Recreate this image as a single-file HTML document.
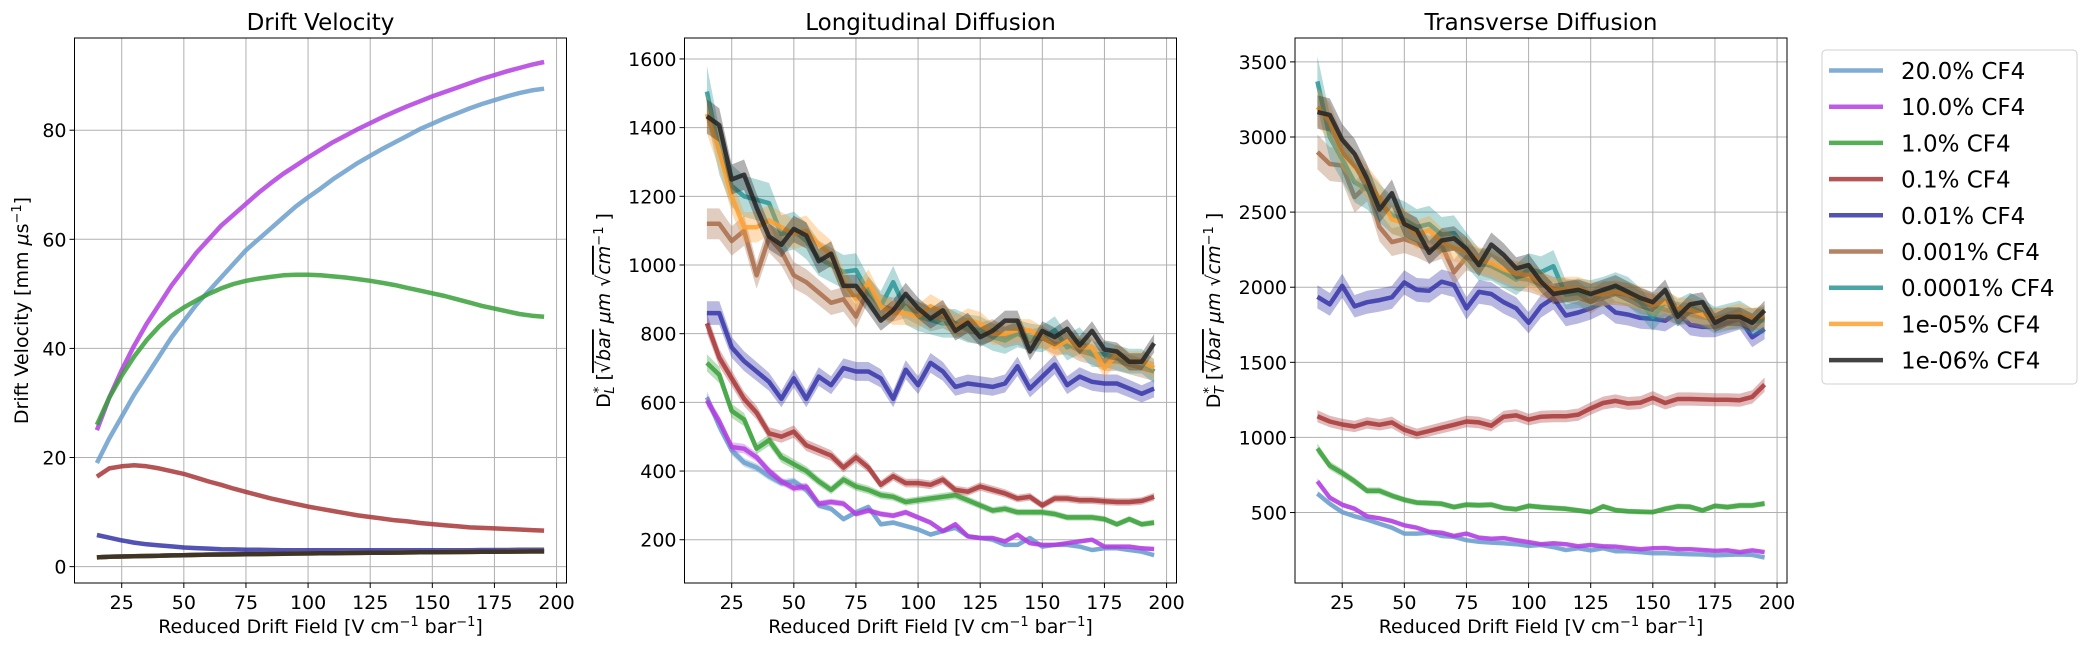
<!DOCTYPE html>
<html><head><meta charset="utf-8">
<style>
html,body{margin:0;padding:0;background:#fff;}
svg{display:block;font-family:"DejaVu Sans","Liberation Sans",sans-serif;}
</style></head>
<body>
<svg id="chart" width="2088" height="648" viewBox="0 0 2088 648" xmlns="http://www.w3.org/2000/svg"></svg>
<script>
const xs = [15,20,25,30,35,40,45,50,55,60,65,70,75,80,85,90,95,100,105,110,115,120,125,130,135,140,145,150,155,160,165,170,175,180,185,190,195];
const seriesNames = ["20.0% CF4","10.0% CF4","1.0% CF4","0.1% CF4","0.01% CF4","0.001% CF4","0.0001% CF4","1e-05% CF4","1e-06% CF4"];
const seriesColors = ["#6b9fcc","#b23ee0","#38a038","#a83636","#3535a8","#a86c4a","#2a9696","#ffa030","#222222"];

// Drift velocity
const vd20 = [19,23.5,27.5,31.5,35,38.5,42,45,48,50.5,53,55.5,58,60,62,64,66,67.7,69.3,71,72.5,74,75.3,76.6,77.8,79,80.2,81.2,82.2,83.1,84,84.8,85.5,86.2,86.8,87.3,87.6];
const vd10 = [25,31,36,40.5,44.5,48,51.5,54.5,57.5,60,62.5,64.5,66.5,68.5,70.3,72,73.5,75,76.4,77.8,79,80.2,81.3,82.4,83.4,84.4,85.3,86.2,87,87.8,88.6,89.4,90.1,90.8,91.4,92,92.5];
const vd1 = [26,31,35,38.5,41.5,44,46,47.5,48.8,50,51,51.8,52.4,52.8,53.1,53.4,53.5,53.5,53.4,53.2,53,52.7,52.4,52,51.6,51.1,50.6,50.1,49.6,49,48.4,47.8,47.3,46.8,46.3,46,45.8];
const vd01 = [16.5,18,18.4,18.6,18.4,18,17.5,17,16.3,15.6,15,14.3,13.7,13.1,12.5,12,11.5,11,10.6,10.2,9.8,9.4,9.1,8.8,8.5,8.3,8.0,7.8,7.6,7.4,7.2,7.1,7.0,6.9,6.8,6.7,6.6];
const vd001 = [5.8,5.3,4.8,4.4,4.1,3.9,3.7,3.5,3.4,3.3,3.2,3.15,3.1,3.1,3.05,3.0,3.0,3.0,3.0,3.0,3.0,3.0,3.0,3.0,3.0,3.0,3.0,3.0,3.0,3.0,3.0,3.05,3.05,3.05,3.1,3.1,3.1];
const vdLow = [1.7,1.8,1.85,1.9,1.95,2.0,2.05,2.1,2.15,2.2,2.22,2.25,2.28,2.3,2.33,2.36,2.4,2.42,2.45,2.47,2.5,2.52,2.54,2.56,2.58,2.6,2.62,2.64,2.66,2.68,2.7,2.72,2.74,2.76,2.78,2.8,2.8];
const vdTicks = [0,20,40,60,80];

// Longitudinal diffusion
const dl20 = [615,530,460,425,410,385,365,370,345,300,290,260,280,295,245,250,240,230,215,225,235,210,205,200,185,185,205,180,185,185,180,170,175,175,170,165,155];
const dl10 = [605,545,470,465,440,400,370,350,355,305,310,305,275,285,275,270,280,265,250,225,245,210,205,205,195,215,190,185,185,190,195,200,180,180,180,175,173];
const dl1 = [715,680,575,550,465,490,440,420,400,370,345,375,355,345,330,325,310,315,320,325,330,315,300,285,290,280,280,280,275,265,265,265,260,245,260,245,250];
const dl01 = [830,730,670,610,570,510,500,515,475,460,445,410,440,410,360,385,365,365,360,375,345,340,355,345,335,320,325,300,320,320,315,315,312,310,310,313,325];
const dl001 = [860,860,760,720,690,660,610,670,610,675,650,700,690,690,670,610,695,650,715,690,645,655,650,645,655,705,640,675,710,650,675,660,655,655,640,625,640];
const dl0001 = [1120,1120,1070,1100,970,1080,1040,970,950,920,890,900,850,930,880,870,880,860,840,850,830,810,800,810,790,800,780,790,770,770,750,740,720,720,710,700,690];
const dl00001 = [1505,1330,1230,1200,1190,1180,1090,1100,1070,1020,1000,980,985,920,880,950,870,850,840,830,830,815,810,790,780,800,790,785,810,760,780,740,740,730,720,720,690];
const dl1e5 = [1440,1330,1200,1110,1110,1130,1110,1090,1100,1060,1030,950,900,950,880,860,860,850,880,860,820,840,830,800,800,810,810,790,760,780,760,760,700,740,720,720,700];
const dl1e6 = [1433,1407,1249,1263,1167,1083,1059,1105,1086,1011,1033,939,939,891,838,868,916,874,844,868,808,832,790,808,838,838,748,808,790,814,766,808,754,748,718,718,772];
const dlTicks = [200,400,600,800,1000,1200,1400,1600];

// Transverse diffusion
const dt20 = [626,558,503,475,453,426,399,360,360,366,344,338,316,305,300,295,289,278,284,270,251,262,248,262,243,243,237,229,229,226,223,221,215,218,221,218,201];
const dt10 = [708,599,552,525,475,462,443,415,399,372,366,344,360,333,325,330,316,303,289,295,289,275,284,275,273,264,256,262,264,256,256,251,245,248,237,248,237];
const dt1 = [927,812,763,708,645,645,612,585,566,563,558,536,552,549,552,530,522,544,536,530,525,514,503,541,516,508,505,503,525,541,538,514,544,536,547,547,560];
const dt01 = [1141,1106,1086,1073,1097,1084,1100,1051,1023,1043,1064,1084,1106,1100,1078,1138,1147,1119,1138,1141,1141,1152,1193,1229,1243,1226,1232,1264,1229,1256,1256,1253,1251,1251,1248,1270,1352];
const dt001 = [1936,1886,2010,1873,1900,1914,1933,2032,1982,1977,2037,2015,1859,1969,1955,1900,1859,1763,1873,1928,1812,1832,1859,1900,1832,1818,1796,1790,1777,1832,1749,1736,1736,1763,1790,1667,1722];
const dt0001 = [2900,2820,2810,2600,2680,2400,2300,2320,2290,2250,2280,2100,2200,2170,2140,2100,2060,2050,2020,1990,1980,1960,1900,1960,1960,1950,1900,1880,1850,1830,1820,1800,1790,1790,1790,1790,1780];
const dt00001 = [3370,3000,2850,2700,2650,2560,2480,2450,2400,2420,2350,2360,2250,2150,2150,2100,2050,2120,2100,2140,1950,1960,1950,1970,2000,1970,1900,1800,1900,1830,1870,1830,1780,1800,1820,1770,1780];
const dt1e5 = [3200,3100,2900,2800,2700,2600,2450,2430,2350,2380,2300,2260,2240,2180,2160,2120,2090,2080,2030,1980,1990,1990,1960,1950,1970,1950,1930,1880,1900,1860,1850,1820,1780,1800,1820,1790,1810];
const dt1e6 = [3166,3147,2982,2887,2722,2517,2626,2421,2380,2229,2311,2325,2256,2147,2284,2215,2125,2147,2037,1955,1969,1982,1955,1982,2010,1969,1928,1900,1982,1804,1886,1900,1763,1804,1804,1763,1845];
const dtTicks = [500,1000,1500,2000,2500,3000,3500];
const xTicks = [25,50,75,100,125,150,175,200];

const NS = "http://www.w3.org/2000/svg";
const svg = document.getElementById("chart");
function mk(tag, attrs, parent){ const e=document.createElementNS(NS,tag); for(const k in attrs) e.setAttribute(k,attrs[k]); (parent||svg).appendChild(e); return e; }

const panelTop = 38, panelBot = 583, panelW = 492;
const relErr = [0.03,0.03,0.035,0.035,0.04,0.04,0.05,0.04,0.035];

function panel(idx, left, ylim, yTicks, series, title, bands, ylabelHTML, ylabelX){
  const g = mk("g",{});
  
  
  const xScale = v => left + (v - 6) / (204 - 6) * panelW;
  const yScale = v => panelBot - (v - ylim[0]) / (ylim[1] - ylim[0]) * (panelBot - panelTop);
  xTicks.forEach(t => {
    const x = xScale(t);
    const gl = mk("line",{x1:x,x2:x,y1:panelTop,y2:panelBot,stroke:"#b0b0b0","stroke-width":1},g);
    
    
    mk("line",{x1:x,x2:x,y1:panelBot,y2:panelBot+5,stroke:"#000","stroke-width":1},g);
    const tl = mk("text",{x:x,y:panelBot+26,"font-size":19,"text-anchor":"middle",fill:"#000"},g);
    tl.textContent = t;
    
    
  });
  yTicks.forEach(t => {
    const y = yScale(t);
    const gl = mk("line",{x1:left,x2:left+panelW,y1:y,y2:y,stroke:"#b0b0b0","stroke-width":1},g);
    
    
    mk("line",{x1:left-5,x2:left,y1:y,y2:y,stroke:"#000","stroke-width":1},g);
    const tl = mk("text",{x:left-8,y:y+7,"font-size":19,"text-anchor":"end",fill:"#000"},g);
    tl.textContent = t;
    
    
  });
  series.forEach((vals, i) => {
    const col = seriesColors[i];
    if (bands) {
      const up = vals.map((v,j) => xScale(xs[j]).toFixed(1)+","+yScale(v*(1+relErr[i])).toFixed(1));
      const dn = vals.map((v,j) => xScale(xs[j]).toFixed(1)+","+yScale(v*(1-relErr[i])).toFixed(1)).reverse();
      const b = mk("polygon",{points:up.concat(dn).join(" "),fill:col,"fill-opacity":0.35,stroke:"none"},g);
      
      
    }
    const pts = vals.map((v,j) => xScale(xs[j]).toFixed(1)+","+yScale(v).toFixed(1)).join(" ");
    const l = mk("polyline",{points:pts,fill:"none",stroke:col,"stroke-width":4.5,"stroke-opacity":0.85,"stroke-linejoin":"round"},g);
    
    
  });
  const fr = mk("rect",{x:left,y:panelTop,width:panelW,height:panelBot-panelTop,fill:"none",stroke:"#000","stroke-width":1},g);
  
  
  const tt = mk("text",{x:left+panelW/2,y:30,"font-size":23,"text-anchor":"middle",fill:"#000"},g);
  tt.textContent = title;
  
  
  const xl = mk("text",{x:left+panelW/2,y:633,"font-size":19,"text-anchor":"middle",fill:"#000"},g);
  xl.innerHTML = 'Reduced Drift Field [V cm<tspan dy="-7" font-size="13">−1</tspan><tspan dy="7"> bar</tspan><tspan dy="-7" font-size="13">−1</tspan><tspan dy="7">]</tspan>';
  
  
  const yl = mk("text",{x:0,y:0,"font-size":19,"text-anchor":"middle",fill:"#000",transform:"translate("+ylabelX+","+((panelTop+panelBot)/2)+") rotate(-90)"},g);
  yl.innerHTML = ylabelHTML;
  
  
}

panel(0, 74.5, [-3.0, 96.9], vdTicks, [vd20,vd10,vd1,vd01,vd001,vdLow,vdLow,vdLow,vdLow], "Drift Velocity", false,
  'Drift Velocity [mm <tspan font-style="italic">μ</tspan>s<tspan dy="-7" font-size="13">−1</tspan><tspan dy="7">]</tspan>', 28);
panel(1, 684.5, [74, 1661], dlTicks, [dl20,dl10,dl1,dl01,dl001,dl0001,dl00001,dl1e5,dl1e6], "Longitudinal Diffusion", true,
  'D<tspan dy="-7" font-size="13">*</tspan><tspan dy="11" dx="-7" font-size="13" font-style="italic">L</tspan><tspan dy="-4">  [</tspan><tspan text-decoration="overline">√<tspan font-style="italic">bar</tspan></tspan><tspan font-style="italic"> μm </tspan>√<tspan text-decoration="overline" font-style="italic">cm</tspan><tspan dy="-7" font-size="13">−1</tspan><tspan dy="7"> ]</tspan>', 610);
panel(2, 1295, [31, 3659], dtTicks, [dt20,dt10,dt1,dt01,dt001,dt0001,dt00001,dt1e5,dt1e6], "Transverse Diffusion", true,
  'D<tspan dy="-7" font-size="13">*</tspan><tspan dy="11" dx="-7" font-size="13" font-style="italic">T</tspan><tspan dy="-4">  [</tspan><tspan text-decoration="overline">√<tspan font-style="italic">bar</tspan></tspan><tspan font-style="italic"> μm </tspan>√<tspan text-decoration="overline" font-style="italic">cm</tspan><tspan dy="-7" font-size="13">−1</tspan><tspan dy="7"> ]</tspan>', 1220);

const lg = mk("g",{});


mk("rect",{x:1822,y:50,width:255,height:334,rx:4,fill:"#fff",stroke:"#d0d0d0","stroke-width":1},lg);
seriesNames.forEach((n,i) => {
  const y = 70.5 + i*36.2;
  const e = mk("g",{},lg);
  
  
  mk("line",{x1:1829,x2:1883,y1:y,y2:y,stroke:seriesColors[i],"stroke-width":4.5,"stroke-opacity":0.85},e);
  const t = mk("text",{x:1901,y:y+8.5,"font-size":23,fill:"#000"},e);
  t.textContent = n;
});
</script>
</body></html>
